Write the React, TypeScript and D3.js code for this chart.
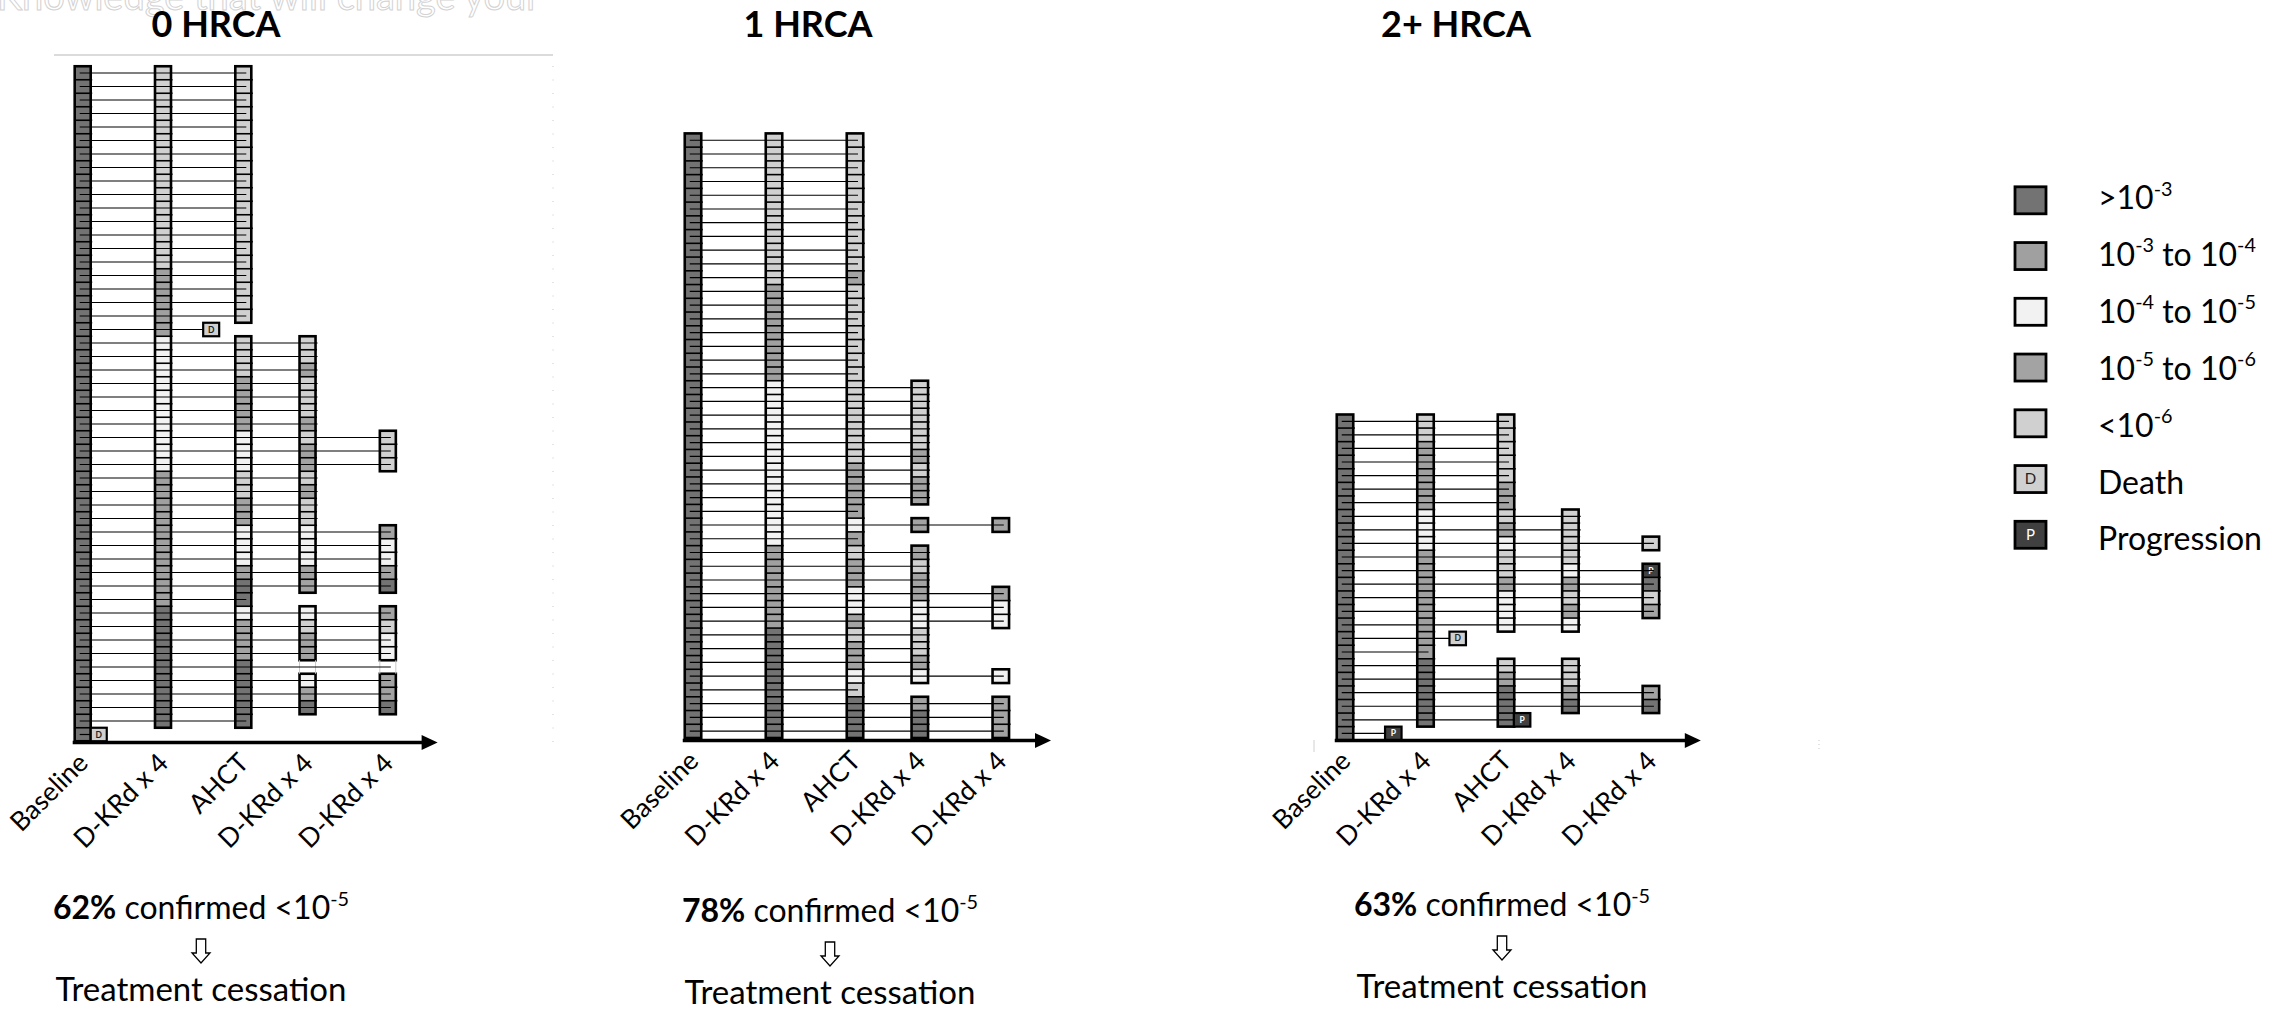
import React from "react";
import * as d3 from "d3";

// Assessment timepoints along each swimmer axis
const TIMEPOINTS = ["Baseline", "D-KRd x 4", "AHCT", "D-KRd x 4", "D-KRd x 4"];
const TIMEPOINT_POS = [0, 1, 2, 2.8, 3.8];

const GROUPS = ["0 HRCA", "1 HRCA", "2+ HRCA"];
const CONFIRMED_PCT = ["62%", "78%", "63%"];

// MRD codes per patient row (top to bottom), one string per timepoint.
// 1: >1e-3, 2: 1e-3..1e-4, 3: 1e-4..1e-5, 4: 1e-5..1e-6, 5: <1e-6,
// P: progression, -: sample not available, .: no assessment
const HRCA0_COLUMNS = [
  "11111 11111 11111 11111 11111 11111 11111 11111 11111 11111",
  "55555 55555 55555 22222 33333 33333 22222 22222 11111 1111.",
  "55555 55555 55555 5555. 55544 44333 55443 33411 34441 1111.",
  "..... ..... ..... ..... 55455 54544 54553 3344. 3544- 341..",
  "..... ..... ..... ..... ..... ..555 ....4 3341. 4533- 441..",
];
const HRCA1_COLUMNS = [
  "11111 11111 11111 11111 11111 11111 11111 11111 1111",
  "55555 55555 52222 22233 33333 33333 22222 21111 1111",
  "55555 55555 45555 55555 55554 44434 54433 45443 5111",
  "..... ..... ..... ...55 55545 44.4. 45443 35543 .411",
  "..... ..... ..... ..... ..... ...4. ...43 3...3 .444",
];
const HRCA2_COLUMNS = [
  "11111 11111 11111 11111 1111",
  "55222 22333 22222 22211 111.",
  "55555 44543 55433 3..54 111.",
  "..... ..555 53454 3..55 41..",
  "..... ....5 .P154 ..... 41..",
];

// Off-schedule events: row, position on the timepoint axis, type (D death, P progression)
const HRCA0_EVENTS = [
  { row: 19, pos: 1.6, type: "D" },
  { row: 49, pos: 0.2, type: "D" },
];
const HRCA1_EVENTS: { row: number; pos: number; type: string }[] = [];
const HRCA2_EVENTS = [
  { row: 16, pos: 1.4, type: "D" },
  { row: 22, pos: 2.2, type: "P" },
  { row: 23, pos: 0.6, type: "P" },
];

const MRD_CODES = ["1", "2", "3", "4", "5"];
const MRD_FILLS = ["#737373", "#a0a0a0", "#f2f2f2", "#a3a3a3", "#d0d0d0"];
const DEATH_FILL = "#d0d0d0";
const PROG_FILL = "#404040";

type Part = { t: string; sup?: boolean; bold?: boolean };
const LEGEND_LABELS: Part[][] = [
  [{ t: ">10" }, { t: "-3", sup: true }],
  [{ t: "10" }, { t: "-3", sup: true }, { t: " to 10" }, { t: "-4", sup: true }],
  [{ t: "10" }, { t: "-4", sup: true }, { t: " to 10" }, { t: "-5", sup: true }],
  [{ t: "10" }, { t: "-5", sup: true }, { t: " to 10" }, { t: "-6", sup: true }],
  [{ t: "<10" }, { t: "-6", sup: true }],
  [{ t: "Death" }],
  [{ t: "Progression" }],
];

const PANEL_LAYOUT = [
  { x0: 82.7, unit: 80.3, top: 66.25, bottom: 741.25, colW: 16, axisY: 742.5, titleX: 216, noteX: 201, noteDy: 0 },
  { x0: 693, unit: 81, top: 133.4, bottom: 738, colW: 16.5, axisY: 740.5, titleX: 808, noteX: 830, noteDy: 3 },
  { x0: 1345, unit: 80.5, top: 414.5, bottom: 740.2, colW: 16.5, axisY: 740.5, titleX: 1456, noteX: 1502, noteDy: -3 },
];

const FONT = "Lato, 'Open Sans', sans-serif";

const parseCol = (s: string) => s.replace(/\s+/g, "").split("");

function RichText({ parts, x, y, size, anchor = "start" }: { parts: Part[]; x: number; y: number; size: number; anchor?: string }) {
  return (
    <text x={x} y={y} fontSize={size} textAnchor={anchor} fill="#000">
      {parts.map((p, i) => {
        const prevSup = i > 0 && parts[i - 1].sup;
        const dy = p.sup ? -0.42 * size : prevSup ? 0.42 * size : 0;
        return (
          <tspan key={i} dy={dy} fontSize={p.sup ? size * 0.62 : size} fontWeight={p.bold ? 700 : 400}>
            {p.t}
          </tspan>
        );
      })}
    </text>
  );
}

function fillFor(code: string) {
  if (code === "P") return PROG_FILL;
  if (code === "-") return "#ffffff";
  const i = MRD_CODES.indexOf(code);
  return i >= 0 ? MRD_FILLS[i] : "#ffffff";
}

function Panel({ cols, events, layout, title, pct }: any) {
  const nRows = cols[0].length;
  const x = d3.scaleLinear().domain([0, 1]).range([layout.x0, layout.x0 + layout.unit]);
  const y = d3.scaleBand<number>().domain(d3.range(nRows)).range([layout.top, layout.bottom]);
  const h = y.bandwidth();
  const w = layout.colW;

  const cells: JSX.Element[] = [];
  const seps: JSX.Element[] = [];
  const outlines: JSX.Element[] = [];
  const cellMarks: JSX.Element[] = [];

  cols.forEach((col: string[], c: number) => {
    const cx = x(TIMEPOINT_POS[c]);
    const left = cx - w / 2;
    let runStart = -1;
    const flush = (end: number) => {
      if (runStart >= 0) {
        outlines.push(
          <rect key={`o${c}-${runStart}`} x={left} y={y(runStart)!} width={w} height={y(end)! + h - y(runStart)!}
            fill="none" stroke="#000" strokeWidth={2.6} />
        );
        for (let r = runStart + 1; r <= end; r++) {
          seps.push(<line key={`s${c}-${r}`} x1={left} x2={left + w + 1.5} y1={y(r)!} y2={y(r)!} stroke="#000" strokeWidth={1.6} />);
        }
      }
      runStart = -1;
    };
    col.forEach((code, r) => {
      if (code === ".") {
        flush(r - 1);
        return;
      }
      cells.push(<rect key={`c${c}-${r}`} x={left} y={y(r)!} width={w} height={h} fill={fillFor(code)} />);
      if (code === "-") {
        flush(r - 1);
        cellMarks.push(
          <g key={`m${c}-${r}`} stroke="#c8c8c8" strokeWidth={1}>
            <line x1={left} x2={left} y1={y(r)!} y2={y(r)! + h} />
            <line x1={left + w} x2={left + w} y1={y(r)!} y2={y(r)! + h} />
          </g>
        );
        return;
      }
      if (runStart < 0) runStart = r;
      if (code === "P") {
        cellMarks.push(
          <text key={`p${c}-${r}`} x={cx} y={y(r)! + h / 2 + 3} fontSize={8.5} fontWeight={700} fill="#fff" textAnchor="middle">P</text>
        );
      }
    });
    flush(nRows - 1);
  });

  // Follow-up line per patient
  const lines = d3.range(nRows).map((r) => {
    let last = 0;
    cols.forEach((col: string[], c: number) => {
      if (col[r] !== ".") last = c;
    });
    let x2 = last === 3 ? x(TIMEPOINT_POS[last]) + w / 2 + 2 : x(TIMEPOINT_POS[last]) + 3;
    events.filter((e: any) => e.row === r && e.pos > TIMEPOINT_POS[last]).forEach((e: any) => {
      x2 = Math.max(x2, x(e.pos));
    });
    const yy = y(r)! + h / 2;
    return <line key={`l${r}`} x1={layout.x0 - w / 2 + 5} x2={x2} y1={yy} y2={yy} stroke="#000" strokeWidth={1.2} />;
  });

  const markers = events.map((e: any, i: number) => {
    const cx = x(e.pos);
    const yy = y(e.row)!;
    return (
      <g key={`e${i}`}>
        <rect x={cx - w / 2} y={yy} width={w} height={h} fill={e.type === "D" ? DEATH_FILL : PROG_FILL} stroke="#000" strokeWidth={2.2} />
        <text x={cx} y={yy + h / 2 + 3} fontSize={8.5} fontWeight={700} textAnchor="middle" fill={e.type === "D" ? "#222" : "#fff"}>
          {e.type}
        </text>
      </g>
    );
  });

  const axisStart = layout.x0 - w / 2 - 2;
  const tip = x(4.42);
  const ay = layout.axisY;
  const nd = layout.noteDy;
  const nx = layout.noteX;

  return (
    <g>
      <text x={layout.titleX} y={37} fontSize={36} fontWeight={700} textAnchor="middle">{title}</text>
      <g>{cells}</g>
      <g>{seps}</g>
      <g>{outlines}</g>
      <g>{cellMarks}</g>
      <g>{lines}</g>
      <g>{markers}</g>
      <line x1={axisStart} x2={tip - 12} y1={ay} y2={ay} stroke="#000" strokeWidth={3.5} />
      <path d={`M${tip},${ay} L${tip - 16},${ay - 7.5} L${tip - 16},${ay + 7.5} Z`} fill="#000" />
      {TIMEPOINTS.map((t, i) => {
        const px = x(TIMEPOINT_POS[i]) + w / 2 - 1;
        const py = ay + 22;
        return (
          <text key={t + i} x={px} y={py} fontSize={26.5} textAnchor="end" transform={`rotate(-45, ${px}, ${py})`}>
            {t}
          </text>
        );
      })}
      <RichText x={nx} y={919 + nd} size={32} anchor="middle"
        parts={[{ t: pct, bold: true }, { t: " confirmed <10" }, { t: "-5", sup: true }]} />
      <path
        d={`M${nx - 4.7},${939 + nd} L${nx + 4.7},${939 + nd} L${nx + 4.7},${953 + nd} L${nx + 9},${953 + nd} L${nx},${963 + nd} L${nx - 9},${953 + nd} L${nx - 4.7},${953 + nd} Z`}
        fill="#fff" stroke="#000" strokeWidth={1.3} strokeLinejoin="miter" />
      <text x={nx} y={1001 + nd} fontSize={33} textAnchor="middle">Treatment cessation</text>
    </g>
  );
}

export default function App() {
  const panels = [
    { cols: HRCA0_COLUMNS.map(parseCol), events: HRCA0_EVENTS },
    { cols: HRCA1_COLUMNS.map(parseCol), events: HRCA1_EVENTS },
    { cols: HRCA2_COLUMNS.map(parseCol), events: HRCA2_EVENTS },
  ];
  const boxY = d3.scaleLinear().domain([0, 1]).range([186.8, 242.55]);
  const textY = d3.scaleLinear().domain([0, 1]).range([209, 265.9]);
  return (
    <svg width={2287} height={1011} style={{ position: "absolute", left: 0, top: 0 }} fontFamily={FONT}>
      <rect width={2287} height={1011} fill="#fff" />
      <text x={540} y={10} fontSize={38} textAnchor="end" fill="#fff" stroke="#d2d2d2" strokeWidth={1}>Knowledge that will change your</text>
      <line x1={54} x2={553} y1={55} y2={55} stroke="#cfcfcf" strokeWidth={1.5} />
      <line x1={553} x2={553} y1={66} y2={752} stroke="#c8c8c8" strokeWidth={1} strokeDasharray="1 12.5" />
      <line x1={1819} x2={1819} y1={740} y2={752} stroke="#c8c8c8" strokeWidth={1} strokeDasharray="1 3" />
      <line x1={1314} x2={1314} y1={740} y2={752} stroke="#d0d0d0" strokeWidth={1} />
      {panels.map((p, i) => (
        <Panel key={i} cols={p.cols} events={p.events} layout={PANEL_LAYOUT[i]} title={GROUPS[i]} pct={CONFIRMED_PCT[i]} />
      ))}
      {LEGEND_LABELS.map((parts, i) => {
        const by = boxY(i);
        const fill = i < 5 ? MRD_FILLS[i] : i === 5 ? DEATH_FILL : PROG_FILL;
        return (
          <g key={i}>
            <rect x={2015} y={by} width={31} height={27} fill={fill} stroke="#000" strokeWidth={2.8} />
            {i >= 5 && (
              <text x={2030.5} y={by + 18.5} fontSize={15} textAnchor="middle" fill={i === 5 ? "#222" : "#fff"}>
                {i === 5 ? "D" : "P"}
              </text>
            )}
            <RichText parts={parts} x={2098} y={textY(i)} size={32} />
          </g>
        );
      })}
    </svg>
  );
}
